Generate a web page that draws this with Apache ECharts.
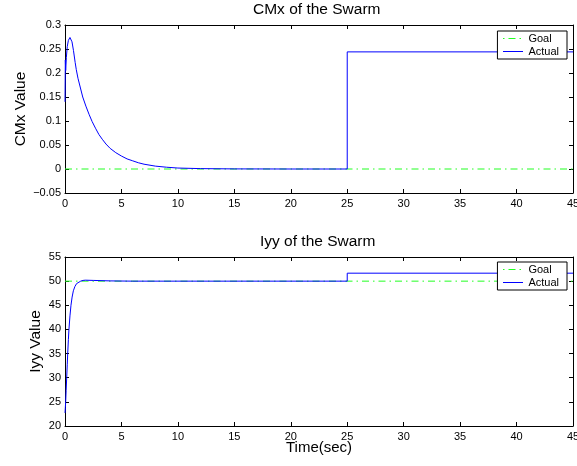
<!DOCTYPE html>
<html>
<head>
<meta charset="utf-8">
<script src="https://cdn.jsdelivr.net/npm/echarts@6/dist/echarts.min.js"></script>
<style>
  html, body { margin: 0; padding: 0; background: #fff; }
  #chart { width: 577px; height: 466px; }
</style>
</head>
<body>
<div id="chart"></div>
<script>
// Swarm centre-of-mass (CMx) and inertia (Iyy) responses over time
const xTicks = { min: 0, max: 45, step: 5 };

const cmxTime   = [0, 0.03, 0.06, 0.12, 0.2, 0.3, 0.44, 0.52, 0.62, 0.75, 0.9, 1.0, 1.15, 1.3, 1.57, 1.85, 2.13, 2.4, 2.7, 3.0, 3.3, 3.63, 4.0, 4.5, 5, 5.5, 6, 6.5, 7, 8, 9, 10, 12, 15, 20, 25, 25, 45];
const cmxActual = [0.14, 0.227, 0.205, 0.232, 0.255, 0.268, 0.274, 0.272, 0.265, 0.247, 0.222, 0.207, 0.189, 0.175, 0.15, 0.131, 0.114, 0.099, 0.085, 0.072, 0.062, 0.052, 0.043, 0.034, 0.027, 0.021, 0.017, 0.013, 0.01, 0.006, 0.0037, 0.002, 0.0008, 0.0002, 0, 0, 0.244, 0.244];
const cmxGoalTime = [0, 45];
const cmxGoal     = [0, 0];

const iyyTime   = [0, 0.03, 0.06, 0.1, 0.15, 0.2, 0.24, 0.3, 0.35, 0.44, 0.53, 0.63, 0.74, 0.88, 1.03, 1.2, 1.39, 1.6, 1.8, 2.5, 4, 6, 25, 25, 45];
const iyyActual = [22.7, 23.8, 25, 27.3, 30, 32.8, 35, 37.9, 40, 42.8, 45, 46.7, 48, 48.9, 49.5, 49.85, 50, 50.15, 50.2, 50.15, 50.05, 50, 50, 51.65, 51.65];
const iyyGoalTime = [0, 45];
const iyyGoal     = [50, 50];

const FONT = 'Liberation Sans, Arial, Helvetica, sans-serif';
const BLUE = '#0000ff';
const GREEN = '#22ff22';
const DASHDOT = [7, 4, 1.5, 4];

const pairs = (xs, ys) => xs.map((x, i) => [x, ys[i]]);
const minusFmt = v => String(+v.toFixed(4)).replace('-', '\u2212');
const goalStyle = () => ({ color: GREEN, width: 1, type: DASHDOT.slice() });
const actualStyle = () => ({ color: BLUE, width: 1 });

function xAxisPair(gridIndex, name) {
  const base = {
    type: 'value', gridIndex, min: xTicks.min, max: xTicks.max, interval: xTicks.step,
    splitLine: { show: false },
    axisLine: { show: true, onZero: false, lineStyle: { color: '#000', width: 1 } },
    axisTick: { show: true, inside: true, length: 4, lineStyle: { color: '#000' } }
  };
  return [
    Object.assign({}, base, {
      position: 'bottom',
      axisLabel: { color: '#000', fontSize: 11, fontFamily: FONT, margin: 5 },
      name: name || '', nameLocation: 'middle', nameGap: 14, nameMoveOverlap: false,
      nameTextStyle: { color: '#000', fontSize: 15, fontFamily: FONT, verticalAlign: 'top' }
    }),
    Object.assign({}, base, { position: 'top', axisLabel: { show: false } })
  ];
}

function yAxisPair(gridIndex, min, max, step, name, gap) {
  const base = {
    type: 'value', gridIndex, min, max, interval: step,
    splitLine: { show: false },
    axisLine: { show: true, onZero: false, lineStyle: { color: '#000', width: 1 } },
    axisTick: { show: true, inside: true, length: 4, lineStyle: { color: '#000' } }
  };
  return [
    Object.assign({}, base, {
      position: 'left',
      axisLabel: { color: '#000', fontSize: 11, fontFamily: FONT, margin: 4, formatter: minusFmt },
      name, nameLocation: 'middle', nameGap: gap, nameMoveOverlap: false,
      nameTextStyle: { color: '#000', fontSize: 15.5, fontFamily: FONT }
    }),
    Object.assign({}, base, { position: 'right', axisLabel: { show: false } })
  ];
}

// Legend box per panel; its keys are filled separately (see legendKeys) so both
// panels show the same green dash-dot and blue solid samples.
const LEGEND_RIGHT = 10, KEY_W = 20, PAD = [2, 8, 2, 6];
function legendAt(top, panel) {
  return {
    data: [
      { name: 'Goal|' + panel, icon: 'none' },
      { name: 'Actual|' + panel, icon: 'none' }
    ],
    formatter: name => name.split('|')[0],
    orient: 'vertical', right: LEGEND_RIGHT, top,
    backgroundColor: '#fff', borderColor: '#000', borderWidth: 1, borderRadius: 0,
    padding: PAD, itemGap: 1, itemWidth: KEY_W, itemHeight: 12,
    textStyle: { color: '#000', fontSize: 11, fontFamily: FONT },
    selectedMode: false
  };
}

// Dash-dot key as filled pieces (dot, dash, dot) and a solid key as one thin bar
function legendKeys(top) {
  const textW = 31; // width of "Actual" at 11px
  const x2 = 577 - LEGEND_RIGHT - PAD[1] - textW - 5;
  const x1 = x2 - KEY_W;
  const goalPieces = [[0, 1.5], [5.5, 7], [16.5, 1.5]];
  const keys = goalPieces.map(([dx, w]) => ({
    type: 'rect', z: 200, shape: { x: x1 + dx, y: top + 7, width: w, height: 1 },
    style: { fill: GREEN }
  }));
  keys.push({
    type: 'rect', z: 200, shape: { x: x1, y: top + 20, width: KEY_W, height: 1 },
    style: { fill: BLUE }
  });
  return keys;
}

const chart = echarts.init(document.getElementById('chart'), null, { renderer: 'canvas' });
chart.setOption({
  animation: false,
  backgroundColor: '#fff',
  textStyle: { fontFamily: FONT },
  grid: [
    { left: 65, right: 4, top: 25, height: 168, outerBoundsMode: 'none', containLabel: false },
    { left: 65, right: 4, top: 257, height: 169, outerBoundsMode: 'none', containLabel: false }
  ],
  xAxis: [...xAxisPair(0, ''), ...xAxisPair(1, 'Time(sec)')],
  yAxis: [
    ...yAxisPair(0, -0.05, 0.3, 0.05, 'CMx Value', 36),
    ...yAxisPair(1, 20, 55, 5, 'Iyy Value', 21)
  ],
  legend: [legendAt(31, 'cmx'), legendAt(262, 'iyy')],
  graphic: [
    { type: 'text', left: 319 - 66, top: 2, style: { text: 'CMx of the Swarm', fill: '#000', font: '15.5px ' + FONT } },
    { type: 'text', left: 319 - 59, top: 234, style: { text: 'Iyy of the Swarm', fill: '#000', font: '15.5px ' + FONT } },
    ...legendKeys(31),
    ...legendKeys(262)
  ],
  series: [
    { name: 'Goal|cmx', type: 'line', xAxisIndex: 0, yAxisIndex: 0, data: pairs(cmxGoalTime, cmxGoal),
      symbol: 'none', lineStyle: goalStyle(), itemStyle: { color: GREEN }, z: 2 },
    { name: 'Actual|cmx', type: 'line', xAxisIndex: 0, yAxisIndex: 0, data: pairs(cmxTime, cmxActual),
      symbol: 'none', lineStyle: actualStyle(), itemStyle: { color: BLUE }, z: 3 },
    { name: 'Goal|iyy', type: 'line', xAxisIndex: 2, yAxisIndex: 2, data: pairs(iyyGoalTime, iyyGoal),
      symbol: 'none', lineStyle: goalStyle(), itemStyle: { color: GREEN }, z: 2 },
    { name: 'Actual|iyy', type: 'line', xAxisIndex: 2, yAxisIndex: 2, data: pairs(iyyTime, iyyActual),
      symbol: 'none', lineStyle: actualStyle(), itemStyle: { color: BLUE }, z: 3 }
  ]
});
</script>
</body>
</html>
